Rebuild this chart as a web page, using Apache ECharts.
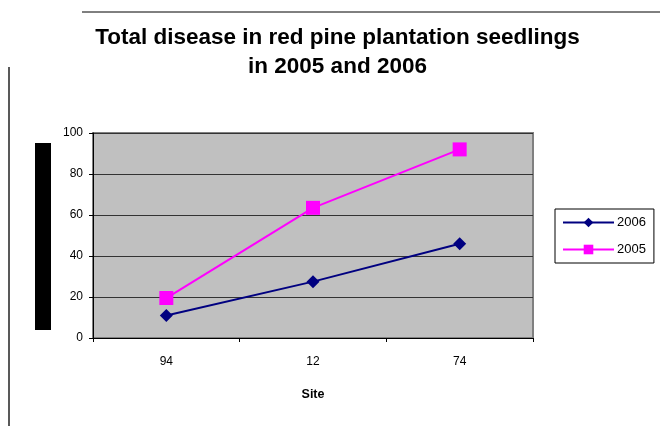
<!DOCTYPE html>
<html>
<head>
<meta charset="utf-8">
<script src="https://cdn.jsdelivr.net/npm/echarts@6/dist/echarts.min.js"></script>
<style>
html,body{margin:0;padding:0;background:#fff;}
#chart{width:660px;height:426px;}
</style>
</head>
<body>
<div id="chart"></div>
<script>
var categories = ['94', '12', '74'];
var series2006 = [11, 27.5, 46];
var series2005 = [19.5, 63.5, 92];
var yTicks = [0, 20, 40, 60, 80, 100];
var titleText = 'Total disease in red pine plantation seedlings\nin 2005 and 2006';
var xAxisName = 'Site';

var FONT = '"Liberation Sans", Arial, sans-serif';
var chart = echarts.init(document.getElementById('chart'));
chart.setOption({
  animation: false,
  backgroundColor: '#ffffff',
  title: {
    text: titleText,
    left: 337.5,
    top: 24,
    padding: 0,
    textAlign: 'center',
    textStyle: { fontFamily: FONT, fontSize: 22.5, fontWeight: 'bold', color: '#000', lineHeight: 28.5 }
  },
  legend: {
    orient: 'vertical',
    left: 555,
    top: 209,
    width: 88,
    data: ['2006', '2005'],
    itemWidth: 51,
    itemHeight: 12,
    itemGap: 14,
    padding: [7, 8, 7, 7],
    borderColor: '#000',
    borderWidth: 1,
    backgroundColor: '#fff',
    textStyle: { fontFamily: FONT, fontSize: 13, color: '#000', padding: [0, 0, 0, -2] }
  },
  grid: {
    left: 93, right: 127, top: 133, bottom: 88,
    show: true,
    backgroundColor: '#C0C0C0',
    borderColor: '#808080',
    borderWidth: 2,
    containLabel: false
  },
  xAxis: {
    type: 'category',
    data: categories,
    boundaryGap: true,
    name: xAxisName,
    nameLocation: 'middle',
    nameGap: 50,
    nameTextStyle: { fontFamily: FONT, fontSize: 12.5, fontWeight: 'bold', color: '#000' },
    axisLine: { show: true, lineStyle: { color: '#000', width: 1 } },
    axisTick: { show: true, alignWithLabel: false, length: 4, lineStyle: { color: '#000' } },
    axisLabel: { fontFamily: FONT, fontSize: 12, color: '#000', margin: 18 },
    splitLine: { show: false }
  },
  yAxis: {
    type: 'value',
    min: yTicks[0],
    max: yTicks[yTicks.length - 1],
    interval: yTicks[1] - yTicks[0],
    axisLine: { show: true, lineStyle: { color: '#000', width: 1 } },
    axisTick: { show: true, length: 4, lineStyle: { color: '#000' } },
    axisLabel: { fontFamily: FONT, fontSize: 12, color: '#000', margin: 10 },
    splitLine: { show: true, lineStyle: { color: '#333', width: 1 } }
  },
  graphic: [
    { type: 'line', shape: { x1: 82, y1: 12, x2: 660, y2: 12 }, style: { stroke: '#000', lineWidth: 1 } },
    { type: 'line', shape: { x1: 9, y1: 67, x2: 9, y2: 426 }, style: { stroke: '#222', lineWidth: 1.5 } },
    { type: 'rect', shape: { x: 35, y: 143, width: 16, height: 187 }, style: { fill: '#000' } }
  ],
  series: [
    {
      name: '2006',
      type: 'line',
      data: series2006,
      symbol: 'diamond',
      symbolSize: 13,
      lineStyle: { color: '#000080', width: 2 },
      itemStyle: { color: '#000080' },
      z: 3
    },
    {
      name: '2005',
      type: 'line',
      data: series2005,
      symbol: 'rect',
      symbolSize: 14,
      lineStyle: { color: '#FF00FF', width: 2 },
      itemStyle: { color: '#FF00FF' },
      z: 4
    }
  ]
});
</script>
</body>
</html>
